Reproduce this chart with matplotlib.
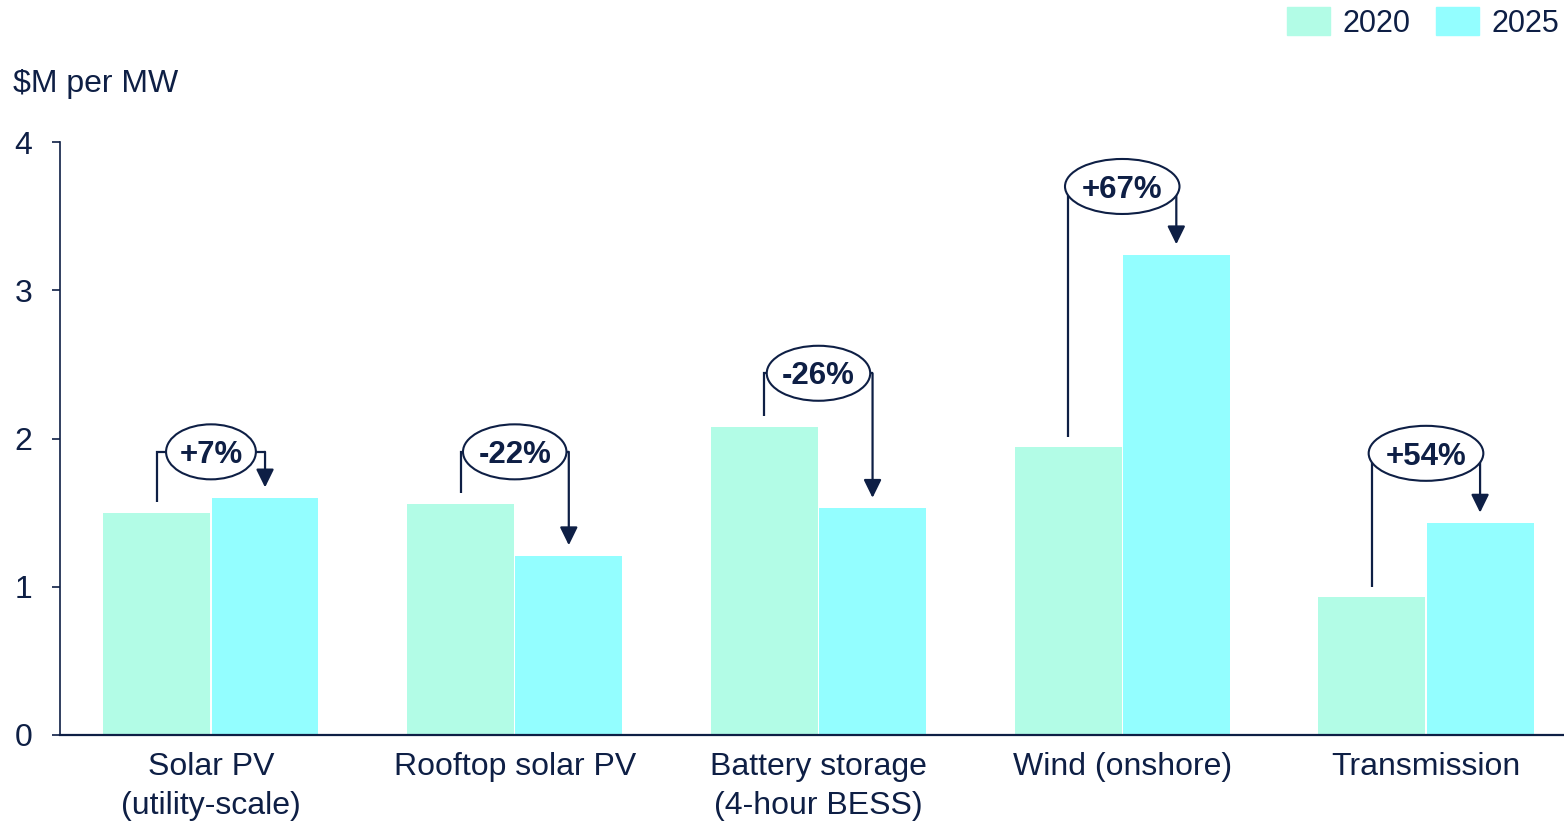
import matplotlib
matplotlib.use("Agg")
import matplotlib.pyplot as plt
from matplotlib.patches import Ellipse, FancyArrowPatch, Patch
import numpy as np

# Capital cost by technology, $M per MW
categories = ["Solar PV\n(utility-scale)", "Rooftop solar PV",
              "Battery storage\n(4-hour BESS)", "Wind (onshore)", "Transmission"]
cost_2020 = [1.50, 1.56, 2.08, 1.94, 0.93]
cost_2025 = [1.60, 1.21, 1.53, 3.24, 1.43]
series_labels = ["2020", "2025"]
y_ticks = [0, 1, 2, 3, 4]
y_title = "$M per MW"

# Styling
NAVY = "#0E1F45"
C2020 = "#B2FCE6"
C2025 = "#93FEFF"
FS = 23
plt.rcParams["font.family"] = ["Liberation Sans", "DejaVu Sans"]

W, H = 1564, 824
fig = plt.figure(figsize=(W / 100, H / 100), dpi=100)
ax = fig.add_axes([60 / W, 89 / H, 1503 / W, 593 / H])

x = np.arange(len(categories))
off, bw = 0.178, 0.352
ax.bar(x - off, cost_2020, bw, color=C2020, zorder=2)
ax.bar(x + off, cost_2025, bw, color=C2025, zorder=2)

ax.set_xlim(-0.497, 4.451)
ax.set_ylim(0, 4)
ax.set_yticks(y_ticks)
ax.set_xticks(x, categories)
for s in ("top", "right"):
    ax.spines[s].set_visible(False)
for s in ("left", "bottom"):
    ax.spines[s].set_color(NAVY)
ax.spines["left"].set_linewidth(1.2)
ax.spines["bottom"].set_linewidth(1.6)
ax.tick_params(axis="x", length=0, pad=12, labelsize=FS, labelcolor=NAVY)
ax.tick_params(axis="y", length=6, width=1.2, color=NAVY, pad=14,
               labelsize=FS, labelcolor=NAVY)
for lbl in ax.get_xticklabels():
    lbl.set_linespacing(1.4)

fig.text(13 / W, 1 - 92 / H, y_title, fontsize=FS, color=NAVY,
         ha="left", va="baseline")

# Change callouts: bracket from 2020 bar to 2025 bar with an oval label
callout_y = [1.91, 1.91, 2.44, 3.70, 1.90]
gap = 0.07
LFS = 22.5
renderer = fig.canvas.get_renderer()
p0 = ax.transData.transform((0, 0))
p1 = ax.transData.transform((1, 1))
px_x, px_y = p1[0] - p0[0], p1[1] - p0[1]
cap_half = 0.716 * LFS * 100 / 72 / 2 / px_y

for i, (a, b) in enumerate(zip(cost_2020, cost_2025)):
    pct = (b / a - 1) * 100
    label = f"{pct:+.0f}%"
    x1, x2, cy = i - off, i + off, callout_y[i]
    ax.plot([x1, x1, i, x2], [a + gap, cy, cy, cy], color=NAVY, lw=1.6,
            solid_capstyle="butt", solid_joinstyle="miter", zorder=3)
    ax.add_patch(FancyArrowPatch((x2, cy), (x2, b + gap),
                                 arrowstyle="-|>,head_length=0.55,head_width=0.27",
                                 mutation_scale=20, color=NAVY, lw=1.6,
                                 shrinkA=0, shrinkB=0, zorder=3))
    t = ax.text(i, cy - cap_half, label, ha="center", va="baseline",
                fontsize=LFS, fontweight="bold", color=NAVY, zorder=5)
    tw = t.get_window_extent(renderer).width
    ax.add_patch(Ellipse((i, cy), tw * 1.42 / px_x, 55 / px_y,
                         facecolor="white", edgecolor=NAVY, lw=1.5, zorder=4))

fig.legend(handles=[Patch(color=C2020), Patch(color=C2025)], labels=series_labels,
           loc="upper right", bbox_to_anchor=(1559 / W, 1 - 7 / H), ncol=2,
           frameon=False, fontsize=22, labelcolor=NAVY, handlelength=1.4,
           handleheight=1.05, handletextpad=0.4, columnspacing=0.85,
           borderpad=0, borderaxespad=0)

fig.savefig("out.png", dpi=100)
